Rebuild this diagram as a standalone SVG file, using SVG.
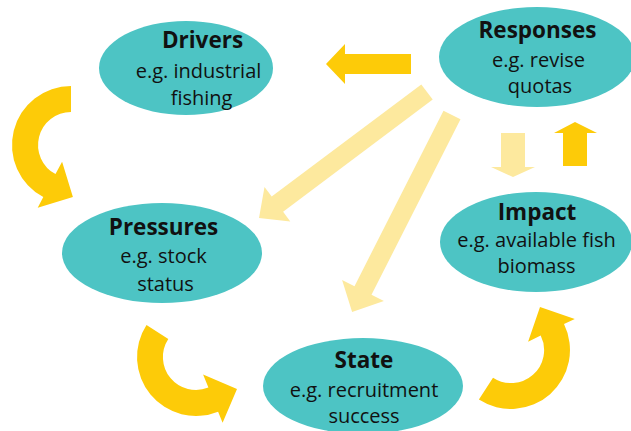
<svg xmlns="http://www.w3.org/2000/svg" width="631" height="431" viewBox="0 0 631 431">
<style>
.node ellipse{fill:#4DC4C4;}
.t{font-family:"Open Sans","Noto Sans","Liberation Sans",sans-serif;fill:#111;text-anchor:middle;}
.h{font-weight:bold;font-size:22.5px;}
.s{font-size:20px;}
.y{fill:#FDCB08;}
.l{fill:#FDE99E;}
</style>
<rect width="631" height="431" fill="#ffffff"/>
<g id="connectors">
<polygon class="l" points="421.3,84.4 432.7,99.6 283.1,211.8 290.3,221.4 259,218 264.5,187 271.7,196.6"/>
<polygon class="l" points="443.5,110.7 460.5,119.3 371.5,294.8 383.9,301.1 352.1,311.9 342.1,279.9 354.5,286.2"/>
<polygon class="y" points="411,54 345,54 345,44 326,64 345,84 345,74 411,74"/>
<polygon class="l" points="501,133 525,133 525,167 535,167 513,177 491,167 501,167"/>
<polygon class="y" points="563,166 587,166 587,133 597,133 575,122 554,133 563,133"/>
<path class="y" d="M71,86 A59,59 0 0 0 43.3,197.1 L37.7,207.7 L72.9,196.9 L62.1,161.8 L55.5,174.1 A33,33 0 0 1 71,112 Z"/>
<path class="y" d="M146.5,324.9 A59,59 0 0 0 218.1,411.7 L222.6,422.8 L237,389 L203.1,374.6 L208.4,387.6 A33,33 0 0 1 168.3,339 Z"/>
<path class="y" d="M478.9,399.5 A59,59 0 0 0 564,324.1 L574.8,318.9 L540,306.9 L528.1,341.7 L540.7,335.5 A33,33 0 0 1 493,377.7 Z"/>
</g>
<g id="drivers" class="node">
<ellipse cx="186" cy="68" rx="87" ry="47"/>
<text class="t h" x="202.5" y="48">Drivers</text>
<text class="t s" x="198.5" y="78">e.g. industrial</text>
<text class="t s" x="201.5" y="105">fishing</text>
</g>
<g id="responses" class="node">
<ellipse cx="537" cy="57" rx="98" ry="50"/>
<text class="t h" x="537.5" y="38">Responses</text>
<text class="t s" x="538.5" y="67">e.g. revise</text>
<text class="t s" x="540" y="93">quotas</text>
</g>
<g id="pressures" class="node">
<ellipse cx="162" cy="253" rx="100" ry="50"/>
<text class="t h" x="163.5" y="235">Pressures</text>
<text class="t s" x="163.5" y="263">e.g. stock</text>
<text class="t s" x="165.5" y="291">status</text>
</g>
<g id="impact" class="node">
<ellipse cx="536" cy="242" rx="96" ry="50"/>
<text class="t h" x="537" y="220">Impact</text>
<text class="t s" x="536.5" y="247">e.g. available fish</text>
<text class="t s" x="536.5" y="273">biomass</text>
</g>
<g id="state" class="node">
<ellipse cx="363" cy="386" rx="100" ry="48"/>
<text class="t h" x="364" y="368">State</text>
<text class="t s" x="364" y="397">e.g. recruitment</text>
<text class="t s" x="364" y="423">success</text>
</g>
</svg>
